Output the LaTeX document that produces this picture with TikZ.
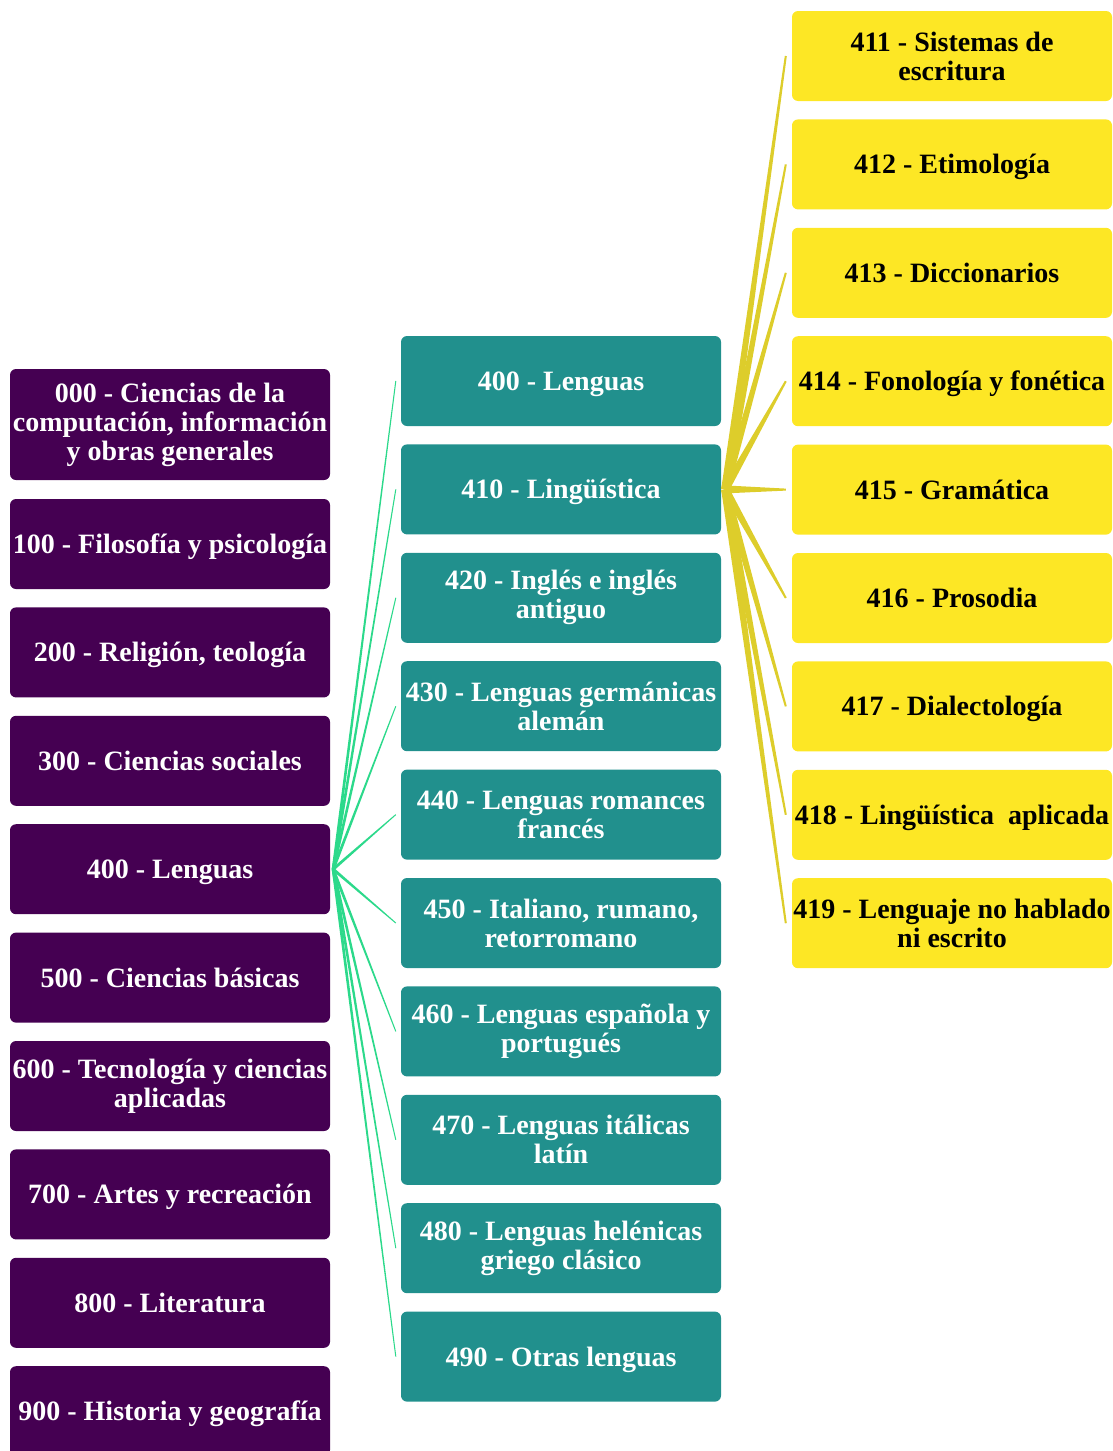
\documentclass[tikz,border=0pt]{standalone}
\usepackage{fontspec}
\setmainfont{Liberation Serif}
\usetikzlibrary{calc}
\definecolor{purp}{HTML}{450052}
\definecolor{tealb}{HTML}{21908D}
\definecolor{yel}{HTML}{FDE725}
\definecolor{glin}{HTML}{2CD98B}
\definecolor{ylin}{HTML}{DDCD2B}
\begin{document}
\begin{tikzpicture}[x=1pt,y=-1pt,
  box/.style={rounded corners=6pt, minimum width=320pt, minimum height=90pt, inner sep=1pt, align=center, font=\fontsize{28}{29}\selectfont\bfseries},
  oneline/.style={text height=20pt, text depth=1pt},
  pbox/.style={box, fill=purp, text=white},
  tbox/.style={box, fill=tealb, text=white},
  ybox/.style={box, fill=yel, text=black}]
\useasboundingbox (0,0) rectangle (1113,1451);
% left column
\node[pbox, minimum height=111pt] (l0) at (170,424.5) {000 - Ciencias de la\\computación, información\\y obras generales};
\node[pbox, oneline] (l1) at (170,544) {100 - Filosofía y psicología};
\node[pbox, oneline] (l2) at (170,652.4) {200 - Religión, teología};
\node[pbox, oneline] (l3) at (170,760.8) {300 - Ciencias sociales};
\node[pbox, oneline] (l4) at (170,869.2) {400 - Lenguas};
\node[pbox, oneline] (l5) at (170,977.6) {500 - Ciencias básicas};
\node[pbox] (l6) at (170,1086) {600 - Tecnología y ciencias\\aplicadas};
\node[pbox, oneline] (l7) at (170,1194.4) {700 - Artes y recreación};
\node[pbox, oneline] (l8) at (170,1302.8) {800 - Literatura};
\node[pbox, oneline] (l9) at (170,1411.2) {900 - Historia y geografía};
% middle column
\node[tbox, oneline] (t0) at (561,381) {400 - Lenguas};
\node[tbox, oneline] (t1) at (561,489.4) {410 - Lingüística};
\node[tbox] (t2) at (561,597.8) {420 - Inglés e inglés\\antiguo};
\node[tbox] (t3) at (561,706.2) {430 - Lenguas germánicas\\alemán};
\node[tbox] (t4) at (561,814.6) {440 - Lenguas romances\\francés};
\node[tbox] (t5) at (561,923) {450 - Italiano, rumano,\\retorromano};
\node[tbox] (t6) at (561,1031.4) {460 - Lenguas española y\\portugués};
\node[tbox] (t7) at (561,1139.8) {470 - Lenguas itálicas\\latín};
\node[tbox] (t8) at (561,1248.2) {480 - Lenguas helénicas\\griego clásico};
\node[tbox, oneline] (t9) at (561,1356.6) {490 - Otras lenguas};
% right column
\node[ybox] (y1) at (952,56) {411 - Sistemas de\\escritura};
\node[ybox, oneline] (y2) at (952,164.4) {412 - Etimología};
\node[ybox, oneline] (y3) at (952,272.8) {413 - Diccionarios};
\node[ybox, oneline] (y4) at (952,381.2) {414 - Fonología y fonética};
\node[ybox, oneline] (y5) at (952,489.6) {415 - Gramática};
\node[ybox, oneline] (y6) at (952,598) {416 - Prosodia};
\node[ybox, oneline] (y7) at (952,706.4) {417 - Dialectología};
\node[ybox, oneline] (y8) at (952,814.8) {418 - Lingüística\ \ aplicada};
\node[ybox] (y9) at (952,923.2) {419 - Lenguaje no hablado\\ni escrito};
% connectors
\coordinate (go) at ($(l4.east)+(3,0)$);
\foreach \k in {0,...,9}{
  \coordinate (ge\k) at ($(t\k.west)+(-5,0)$);
  \fill[glin] ($(go)!1.5pt!90:(ge\k)$) -- ($(ge\k)!0.5pt!-90:(go)$) -- ($(ge\k)!0.5pt!90:(go)$) -- ($(go)!1.5pt!-90:(ge\k)$) -- cycle;
}
\coordinate (yo) at ($(t1.east)+(4,0)$);
\foreach \k in {1,...,9}{
  \coordinate (ye\k) at ($(y\k.west)+(-6,0)$);
  \fill[ylin] ($(yo)!4pt!90:(ye\k)$) -- ($(ye\k)!1pt!-90:(yo)$) -- ($(ye\k)!1pt!90:(yo)$) -- ($(yo)!4pt!-90:(ye\k)$) -- cycle;
}
\end{tikzpicture}
\end{document}
